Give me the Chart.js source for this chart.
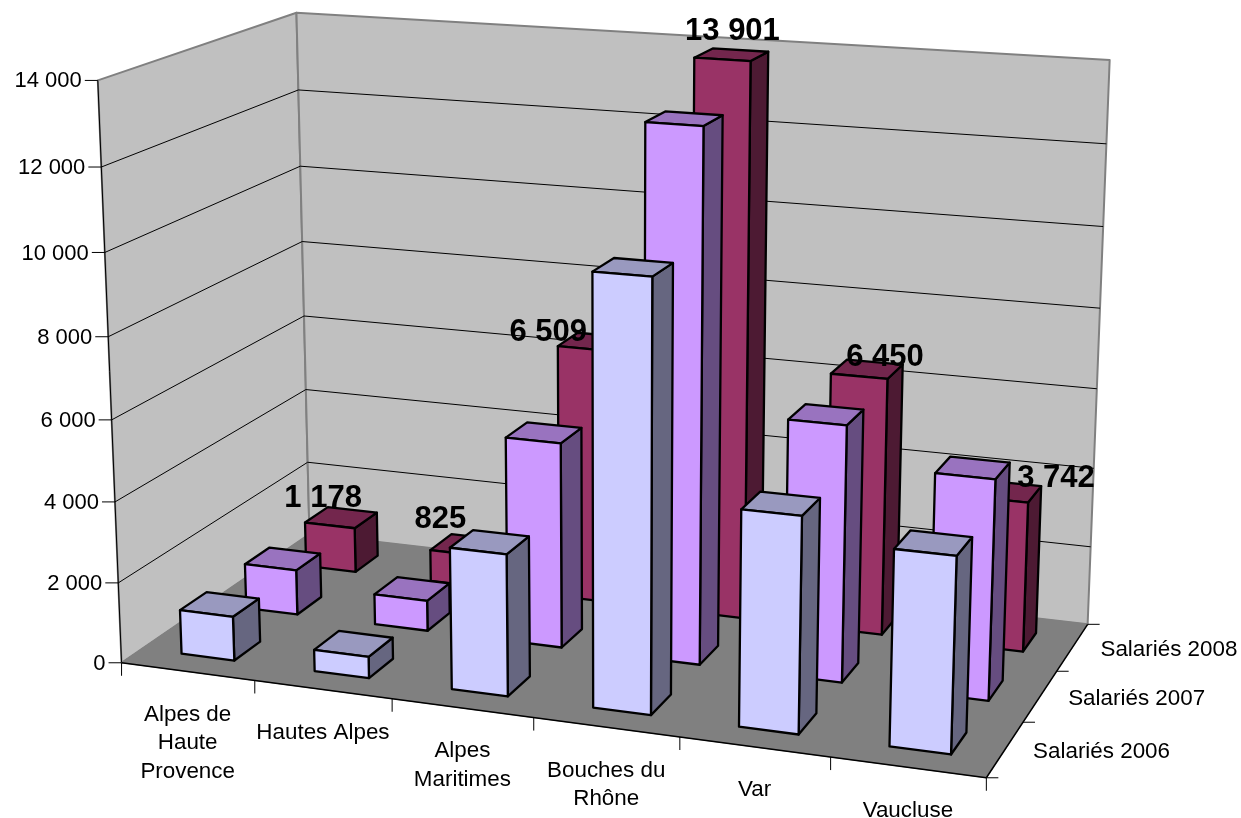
<!DOCTYPE html>
<html lang="fr">
<head>
    <meta charset="UTF-8">
    <title>Salariés par département</title>
    <script src="https://cdn.jsdelivr.net/npm/chart.js@4/dist/chart.umd.js"></script>
    <style>
        body { margin: 0; background: #fff; }
        canvas { display: block; }
    </style>
</head>
<body>
    <canvas id="chart" width="1241" height="818"></canvas>

    <script>
        const categories = [['Alpes de', 'Haute', 'Provence'], 'Hautes Alpes', ['Alpes', 'Maritimes'], ['Bouches du', 'Rhône'], 'Var', 'Vaucluse'];
        const seriesNames = ['Salariés 2006', 'Salariés 2007', 'Salariés 2008'];
        const salaries2006 = [1100, 530, 3450, 10250, 5130, 4600];
        const salaries2007 = [1150, 770, 5120, 12975, 6250, 5325];
        const salaries2008 = [1178, 825, 6509, 13901, 6450, 3742];
        const maxValue = 14000;
        const tickStep = 2000;

        const frontColors = ['#CCCCFF', '#CC99FF', '#993366'];
        const topColors = ['#9999BF', '#9973BF', '#73264D'];
        const sideColors = ['#666680', '#664D80', '#4D1A33'];
        const depthPercentage = 0.4;
        const FONT = '"Liberation Sans", Arial, sans-serif';

        // the 3d box: [u, v, w] (0..1 along categories, series, values) -> picture position
        const boxCorners = [
            [0, 0, 0, 122, 663], [1, 0, 0, 986, 778], [0, 1, 0, 309, 534], [1, 1, 0, 1088, 624],
            [0, 0, 1, 98, 80], [0, 1, 1, 296, 13], [1, 1, 1, 1110, 60],
            [0, 0, 6 / 7, 101, 167], [0, 1, 6 / 7, 299, 90], [1, 1, 6 / 7, 1106, 144]
        ];
        const camera = fitCamera(boxCorners);

        function fitCamera(points) {
            const n = 11;
            const A = Array.from({ length: n }, () => new Array(n + 1).fill(0));
            const addRow = (row, b) => {
                for (let i = 0; i < n; i++) {
                    for (let k = 0; k < n; k++) A[i][k] += row[i] * row[k];
                    A[i][n] += row[i] * b;
                }
            };
            points.forEach(([u, v, w, x, y]) => {
                const sx = x / 1000, sy = y / 1000;
                addRow([u, v, w, 1, 0, 0, 0, 0, -sx * u, -sx * v, -sx * w], sx);
                addRow([0, 0, 0, 0, u, v, w, 1, -sy * u, -sy * v, -sy * w], sy);
            });
            for (let c = 0; c < n; c++) {
                let best = c;
                for (let r = c + 1; r < n; r++) if (Math.abs(A[r][c]) > Math.abs(A[best][c])) best = r;
                [A[c], A[best]] = [A[best], A[c]];
                for (let r = 0; r < n; r++) {
                    if (r === c) continue;
                    const f = A[r][c] / A[c][c];
                    for (let k = c; k <= n; k++) A[r][k] -= f * A[c][k];
                }
            }
            return A.map((row, i) => row[n] / row[i]);
        }

        function project(u, v, w) {
            const p = camera;
            const d = p[8] * u + p[9] * v + p[10] * w + 1;
            return {
                x: 1000 * (p[0] * u + p[1] * v + p[2] * w + p[3]) / d,
                y: 1000 * (p[4] * u + p[5] * v + p[6] * w + p[7]) / d
            };
        }

        function polygon(ctx, corners, fill, stroke, lineWidth) {
            ctx.beginPath();
            corners.forEach(([u, v, w], i) => {
                const p = project(u, v, w);
                if (i === 0) ctx.moveTo(p.x, p.y); else ctx.lineTo(p.x, p.y);
            });
            ctx.closePath();
            if (fill) { ctx.fillStyle = fill; ctx.fill(); }
            if (stroke) { ctx.strokeStyle = stroke; ctx.lineWidth = lineWidth; ctx.stroke(); }
        }

        function segment(ctx, a, b, color, lineWidth) {
            ctx.beginPath();
            ctx.moveTo(a.x, a.y);
            ctx.lineTo(b.x, b.y);
            ctx.strokeStyle = color;
            ctx.lineWidth = lineWidth;
            ctx.stroke();
        }

        // bars stay normal Chart.js bar elements, only their drawing goes through the 3d box
        class Bar3dController extends Chart.BarController {
            draw() {
                const ctx = this.chart.ctx;
                const area = this.chart.chartArea;
                const j = this.index;
                const slot = 1 / seriesNames.length;
                const v0 = (j + 0.5 - depthPercentage / 2) * slot;
                const v1 = (j + 0.5 + depthPercentage / 2) * slot;
                ctx.save();
                ctx.lineJoin = 'round';
                this.getMeta().data.forEach(bar => {
                    const u0 = (bar.x - bar.width / 2 - area.left) / area.width;
                    const u1 = (bar.x + bar.width / 2 - area.left) / area.width;
                    const w = (area.bottom - bar.y) / area.height;
                    polygon(ctx, [[u1, v0, 0], [u1, v1, 0], [u1, v1, w], [u1, v0, w]], sideColors[j], '#000', 2.3);
                    polygon(ctx, [[u0, v0, w], [u1, v0, w], [u1, v1, w], [u0, v1, w]], topColors[j], '#000', 2.3);
                    polygon(ctx, [[u0, v0, 0], [u1, v0, 0], [u1, v0, w], [u0, v0, w]], frontColors[j], '#000', 2.3);
                });
                ctx.restore();
            }
        }
        Bar3dController.id = 'bar3d';
        Bar3dController.defaults = {};
        Chart.register(Bar3dController);

        const box3dPlugin = {
            id: 'box3d',
            beforeDatasetsDraw(chart) {
                const ctx = chart.ctx;
                const yScale = chart.scales.y;
                ctx.save();
                ctx.lineJoin = 'round';

                polygon(ctx, [[0, 0, 0], [0, 1, 0], [0, 1, 1], [0, 0, 1]], '#C0C0C0', '#808080', 2);
                polygon(ctx, [[0, 1, 0], [1, 1, 0], [1, 1, 1], [0, 1, 1]], '#C0C0C0', '#808080', 2);
                polygon(ctx, [[0, 0, 0], [1, 0, 0], [1, 1, 0], [0, 1, 0]], '#808080', '#808080', 1);

                // gridlines and value axis
                ctx.font = '22px ' + FONT;
                ctx.fillStyle = '#000';
                ctx.textAlign = 'right';
                ctx.textBaseline = 'middle';
                yScale.ticks.forEach(tick => {
                    const w = tick.value / maxValue;
                    const front = project(0, 0, w);
                    if (tick.value > 0 && tick.value < maxValue) {
                        segment(ctx, front, project(0, 1, w), '#000', 1);
                        segment(ctx, project(0, 1, w), project(1, 1, w), '#000', 1);
                    }
                    segment(ctx, { x: front.x - 13, y: front.y }, front, '#000', 1);
                    ctx.fillText(tick.label, front.x - 16, front.y + 1);
                });
                segment(ctx, project(0, 0, 0), project(0, 0, 1), '#000', 1);
                segment(ctx, project(0, 0, 0), project(0, 1, 0), '#808080', 1);
                segment(ctx, project(0, 0, 0), project(1, 0, 0), '#000', 1.5);
                segment(ctx, project(1, 0, 0), project(1, 1, 0), '#000', 1.5);

                // category axis
                ctx.font = '22.4px ' + FONT;
                const nCat = categories.length;
                for (let i = 0; i <= nCat; i++) {
                    const p = project(i / nCat, 0, 0);
                    segment(ctx, p, { x: p.x, y: p.y + 13 }, '#000', 1);
                }
                ctx.textAlign = 'center';
                ctx.textBaseline = 'top';
                categories.forEach((label, i) => {
                    const p = project((i + 0.5) / nCat, 0, 0);
                    [].concat(label).forEach((line, k) => {
                        ctx.fillText(line, p.x, p.y + 32 + k * 28.5);
                    });
                });

                // series axis
                const nSer = seriesNames.length;
                for (let j = 0; j <= nSer; j++) {
                    const p = project(1, j / nSer, 0);
                    segment(ctx, p, { x: p.x + 12, y: p.y }, '#000', 1);
                }
                ctx.textAlign = 'left';
                ctx.textBaseline = 'middle';
                seriesNames.forEach((name, j) => {
                    const p = project(1, (j + 0.5) / nSer, 0);
                    ctx.fillText(name, p.x + 28, p.y + 2.5);
                });
                ctx.restore();
            },
            afterDatasetsDraw(chart) {
                // value labels only on the back series
                const ctx = chart.ctx;
                const area = chart.chartArea;
                const last = seriesNames.length - 1;
                const nudges = [[-18, -19], [-26, -25], [-46, -9], [1, -23], [18, -12], [50, -13]];
                ctx.save();
                ctx.font = 'bold 31px ' + FONT;
                ctx.fillStyle = '#000';
                ctx.textAlign = 'center';
                ctx.textBaseline = 'middle';
                chart.getDatasetMeta(last).data.forEach((bar, i) => {
                    const u = (bar.x - area.left) / area.width;
                    const w = (area.bottom - bar.y) / area.height;
                    const p = project(u, (last + 0.5) / seriesNames.length, w);
                    ctx.fillText(formatValue(salaries2008[i]), p.x + nudges[i][0], p.y + nudges[i][1]);
                });
                ctx.restore();
            }
        };

        function formatValue(value) {
            return String(value).replace(/\B(?=(\d{3})+$)/g, ' ');
        }

        const allValues = [salaries2006, salaries2007, salaries2008];
        new Chart(document.getElementById('chart').getContext('2d'), {
            type: 'bar3d',
            data: {
                labels: categories,
                datasets: seriesNames.map((name, j) => ({
                    label: name,
                    data: allValues[j],
                    backgroundColor: frontColors[j]
                }))
            },
            options: {
                responsive: false,
                animation: false,
                devicePixelRatio: 1,
                grouped: false,
                barPercentage: 1,
                categoryPercentage: 0.4,
                layout: { padding: 0 },
                plugins: {
                    legend: { display: false },
                    tooltip: { enabled: false }
                },
                scales: {
                    x: { type: 'category', offset: true, display: false },
                    y: {
                        type: 'linear',
                        display: false,
                        min: 0,
                        max: maxValue,
                        ticks: { stepSize: tickStep, callback: value => formatValue(value) }
                    }
                }
            },
            plugins: [box3dPlugin]
        });
    </script>
</body>
</html>
